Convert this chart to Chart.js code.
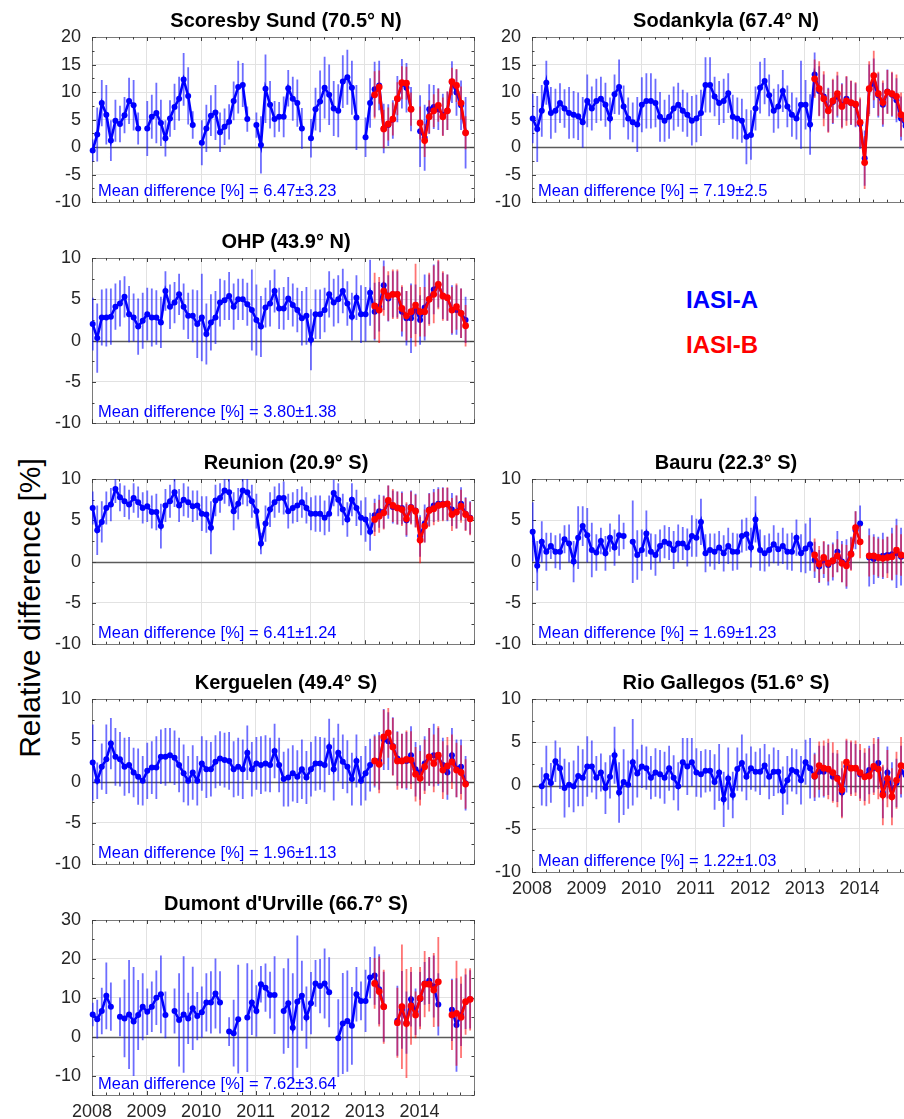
<!DOCTYPE html>
<html>
<head>
<meta charset="utf-8">
<script src="https://cdn.jsdelivr.net/npm/chart.js@4.4.0/dist/chart.umd.min.js"></script>
<style>
  html, body { margin: 0; padding: 0; background: #fff; overflow: hidden; width: 904px; height: 1119px; position: relative; font-family: "Liberation Sans", Arial, sans-serif; }
  canvas { position: absolute; }
  .txt { position: absolute; white-space: nowrap; transform: translate(-50%, -50%); }
</style>
</head>
<body>
<div class="txt" style="left:30px; top:608px; font-size:30px; color:#000; transform: translate(-50%,-50%) rotate(-90deg);">Relative difference [%]</div>
<div class="txt" style="left:722px; top:300px; font-size:24px; font-weight:bold; color:#0000ff;">IASI-A</div>
<div class="txt" style="left:722px; top:345px; font-size:24px; font-weight:bold; color:#ff0000;">IASI-B</div>

<script>
// monthly points Jan 2008 .. Dec 2014 (84 months); IASI-B starts Mar 2013
const firstYear = 2008
const bStart = 62

// Scoresby Sund
const scoresbyA = [
  -0.6, 2.3, 8.0, 5.9, 1.2, 4.8, 4.2, 5.8, 8.4, 7.6, 3.4, null,
  3.4, 5.5, 6.2, 4.4, 1.6, 5.2, 7.3, 8.8, 12.3, 9.3, 4.0, null,
  0.8, 3.4, 5.7, 6.3, 2.7, 3.7, 4.6, 8.4, 10.9, 11.3, 5.1, null,
  4.0, 0.4, 10.6, 7.7, 5.1, 5.5, 5.5, 10.7, 8.8, 8.0, 3.4, null,
  1.6, 6.9, 8.3, 10.8, 9.5, 7.0, 6.6, 11.9, 12.7, 10.8, 5.4, null,
  1.8, 8.0, 10.5, 11.2, 3.4, 4.0, 5.0, 8.7, 11.5, 10.8, 6.9, null,
  2.9, 1.7, 6.9, 7.3, 6.9, 5.9, 6.6, 11.8, 9.9, 7.6, 2.6, null]
const scoresbyAErr = [
  2.0, 4.9, 4.2, 5.4, 3.7, 3.8, 3.3, 3.3, 4.2, 4.6, 2.9, null,
  5.0, 4.0, 5.5, 4.2, 3.3, 3.3, 4.2, 4.0, 4.8, 5.2, 2.5, null,
  4.1, 4.3, 3.7, 5.0, 3.6, 3.3, 3.2, 3.5, 4.8, 4.0, 2.3, null,
  2.3, 5.2, 6.2, 4.3, 3.3, 2.7, 3.7, 3.3, 4.0, 4.3, 3.7, null,
  3.5, 3.9, 5.6, 5.6, 5.5, 5.0, 4.8, 4.8, 5.0, 4.9, 5.9, null,
  3.6, 4.5, 5.0, 4.5, 4.5, 3.8, 3.5, 4.2, 4.5, 4.5, 4.0, null,
  6.5, 6.0, 4.5, 4.0, 3.8, 3.8, 3.5, 3.8, 4.2, 4.5, 6.5, null]
const scoresbyB = [9.5, 10.9, 3.3, 4.2, 5.1, 8.8, 11.7, 11.6, 6.9, null,
  4.4, 1.2, 5.5, 6.6, 7.6, 5.5, 6.6, 11.9, 11.2, 8.0, 2.6, null]
const scoresbyBErr = [4.3, 3.0, 3.5, 3.0, 3.0, 3.0, 3.0, 3.0, 3.0, null,
  3.0, 3.0, 3.0, 3.0, 3.0, 3.5, 3.5, 2.5, 3.0, 3.0, 3.0, null]

// Sodankyla
const sodankylaA = [
  5.2, 3.3, 6.6, 11.7, 6.2, 6.6, 8.0, 7.0, 6.2, 5.9, 5.6, 4.5,
  8.4, 7.0, 8.4, 8.8, 7.7, 5.2, 9.6, 10.9, 7.4, 5.2, 4.5, 4.1,
  7.7, 8.4, 8.4, 8.0, 5.5, 4.8, 5.5, 7.0, 7.7, 6.6, 5.9, 4.8,
  5.2, 6.2, 11.3, 11.3, 9.2, 8.0, 8.4, 9.8, 5.5, 5.2, 4.8, 1.9,
  2.2, 7.0, 10.8, 12.0, 9.4, 6.6, 7.4, 10.2, 7.4, 5.9, 5.2, 7.7,
  7.7, 4.1, 13.2, 10.2, 9.2, 6.8, 8.2, 9.2, 7.6, 8.8, 8.0, 7.6,
  4.2, -2.0, 10.5, 11.6, 9.4, 7.7, 10.1, 9.5, 8.5, 5.2, 3.9, null]
const sodankylaAErr = [
  4.5, 6.0, 4.7, 4.0, 4.7, 4.0, 3.6, 3.5, 4.7, 4.3, 4.3, 4.6,
  4.8, 4.0, 4.0, 4.0, 4.0, 3.8, 3.6, 5.0, 3.8, 3.8, 3.6, 5.0,
  5.0, 5.0, 5.0, 4.4, 4.5, 3.8, 4.0, 4.0, 4.0, 3.8, 4.0, 4.5,
  4.3, 4.2, 5.0, 5.0, 3.6, 4.0, 4.0, 3.6, 4.0, 3.8, 4.0, 5.0,
  4.5, 4.0, 4.7, 4.2, 3.8, 4.0, 4.0, 3.8, 3.8, 4.0, 3.8, 8.0,
  4.5, 5.5, 4.0, 4.5, 4.0, 4.0, 4.0, 3.8, 4.0, 4.0, 4.0, 4.0,
  4.5, 5.0, 4.5, 4.5, 4.0, 4.0, 4.0, 4.0, 4.0, 4.0, 4.0, null]
const sodankylaB = [12.4, 10.6, 8.8, 6.6, 8.4, 9.7, 7.4, 8.4, 8.1, 7.8,
  4.5, -2.8, 10.6, 13.0, 9.7, 8.1, 10.0, 9.7, 9.2, 5.9, 5.0, null]
const sodankylaBErr = [3.5, 5.0, 5.0, 4.0, 4.0, 4.0, 4.0, 4.5, 4.0, 4.0,
  4.5, 4.8, 5.0, 4.5, 4.0, 4.0, 4.0, 4.0, 4.0, 4.0, 4.0, null]

// OHP
const ohpA = [
  2.0, 0.3, 2.8, 2.8, 2.9, 4.1, 4.5, 5.3, 3.2, 2.8, 1.7, 2.4,
  3.2, 2.8, 2.8, 2.2, 6.0, 4.1, 4.6, 5.6, 4.1, 3.0, 3.0, 2.0,
  2.8, 0.8, 2.2, 2.8, 4.6, 4.9, 5.4, 4.1, 5.0, 5.0, 4.4, 3.7,
  2.5, 1.7, 4.0, 4.5, 6.0, 3.9, 3.9, 5.1, 4.3, 3.7, 2.7, 3.0,
  0.1, 3.2, 3.2, 3.7, 5.6, 4.6, 5.0, 6.0, 4.5, 2.9, 5.2, 3.2,
  3.2, 5.8, 3.5, 4.1, 6.7, 5.1, 5.6, 5.6, 3.5, 2.7, 2.7, 3.8,
  2.5, 4.0, 5.0, 6.2, 6.8, 5.4, 5.2, 3.7, 3.7, 3.3, 2.5, null]
const ohpAErr = [
  3.2, 4.2, 3.4, 3.5, 3.4, 2.8, 2.8, 2.5, 3.4, 2.9, 3.4, 3.4,
  3.2, 3.5, 3.3, 3.1, 2.4, 2.7, 2.5, 2.5, 2.8, 2.8, 3.2, 4.1,
  5.3, 3.7, 3.4, 3.2, 2.9, 2.4, 2.9, 2.8, 2.5, 2.5, 2.6, 4.9,
  4.3, 3.7, 2.4, 2.8, 2.6, 2.5, 2.6, 2.6, 2.6, 2.7, 3.3, 3.5,
  3.7, 3.0, 3.0, 2.7, 2.8, 2.9, 2.9, 2.7, 2.7, 2.9, 2.7, 3.5,
  3.3, 4.0, 3.5, 3.0, 3.0, 2.8, 2.8, 2.8, 3.0, 3.3, 4.2, 3.0,
  3.0, 4.0, 3.0, 3.0, 2.8, 2.8, 2.8, 3.0, 3.0, 3.0, 2.8, null]
const ohpB = [4.2, 3.7, 6.0, 5.4, 5.6, 5.6, 3.9, 3.0, 3.5, 4.3,
  3.5, 3.5, 5.0, 5.6, 6.8, 5.4, 5.2, 3.7, 4.1, 3.3, 1.8, null]
const ohpBErr = [4.0, 4.0, 3.0, 3.0, 3.0, 3.0, 2.8, 3.0, 3.2, 5.0,
  3.0, 3.0, 3.2, 3.5, 3.0, 3.0, 2.8, 2.8, 2.8, 3.0, 2.5, null]

// Reunion
const reunionA = [
  6.5, 3.8, 4.8, 6.5, 6.9, 8.8, 7.8, 7.3, 6.9, 7.7, 7.2, 6.5,
  6.7, 6.0, 6.0, 4.3, 6.8, 7.3, 8.4, 6.8, 7.5, 7.2, 6.7, 6.8,
  5.8, 5.7, 4.1, 7.4, 7.7, 8.6, 8.4, 6.1, 7.0, 8.6, 8.4, 7.3,
  6.1, 2.2, 4.6, 6.3, 7.2, 7.7, 7.7, 6.1, 6.5, 6.8, 7.2, 6.5,
  5.8, 5.8, 5.8, 5.3, 5.8, 8.3, 7.5, 6.3, 5.1, 7.5, 6.5, 5.3,
  5.1, 3.6, 5.6, 6.1, 6.0, 7.2, 6.6, 6.5, 6.5, 5.0, 6.6, 6.2,
  3.1, 4.6, 6.3, 6.8, 7.0, 7.0, 6.9, 6.3, 6.0, 7.0, 5.8, 5.3]
const reunionAErr = [
  2.0, 3.0, 2.5, 2.0, 2.0, 1.7, 1.7, 1.9, 1.8, 1.8, 1.9, 1.9,
  1.9, 2.0, 2.2, 2.7, 2.0, 2.0, 1.8, 2.0, 2.0, 1.9, 1.9, 1.8,
  2.1, 2.2, 3.2, 1.9, 1.8, 1.6, 1.7, 2.3, 1.9, 1.7, 1.7, 2.0,
  2.1, 1.3, 2.2, 2.1, 1.9, 1.8, 2.0, 2.1, 1.9, 2.0, 1.9, 1.9,
  2.0, 2.2, 2.2, 2.1, 2.2, 1.6, 2.0, 1.9, 2.1, 2.0, 2.2, 2.1,
  2.7, 2.3, 2.0, 2.0, 2.0, 2.0, 2.0, 2.0, 2.0, 2.0, 2.0, 2.0,
  2.5, 2.3, 2.0, 2.0, 2.0, 2.0, 2.0, 2.0, 2.0, 2.0, 2.0, 2.0]
const reunionB = [5.1, 5.5, 5.9, 7.4, 6.8, 6.5, 6.3, 5.2, 6.5, 6.1,
  2.6, 4.3, 6.2, 6.4, 6.8, 6.9, 7.0, 5.7, 6.0, 6.7, 5.7, 5.2]
const reunionBErr = [2.0, 2.0, 2.0, 1.8, 2.0, 2.0, 2.0, 2.0, 2.0, 2.0,
  2.8, 2.0, 2.0, 2.0, 2.0, 2.0, 2.0, 2.0, 2.0, 2.0, 2.0, 2.0]

// Bauru
const bauruA = [
  3.6, -0.5, 2.4, 1.2, 1.9, 1.2, 1.2, 2.7, 2.2, 0.0, 2.9, 4.3,
  3.2, 1.4, 1.1, 2.5, 1.0, 2.9, 1.7, 3.2, 3.1, null, 2.4, 0.8,
  1.4, 3.4, 1.2, 0.8, 1.9, 2.4, 2.2, 1.4, 2.2, 2.2, 1.7, 3.1,
  2.9, 4.8, 1.0, 1.4, 1.2, 1.7, 1.0, 1.9, 1.2, 1.2, 3.1, 3.3,
  1.7, 5.1, 1.4, 1.0, 1.4, 2.1, 1.5, 1.9, 1.2, 1.2, 2.9, 1.0,
  1.6, 2.1, 0.2, -0.6, 0.2, -0.4, 0.0, 1.2, 0.0, -0.3, 1.0, 3.8,
  4.6, null, 0.5, 0.3, 0.5, 0.7, 0.8, 0.9, 1.0, 0.6, 0.7, 0.6]
const bauruAErr = [
  3.6, 3.0, 2.5, 2.3, 1.6, 2.0, 2.2, 1.7, 2.3, 2.5, 3.8, 2.4,
  3.3, 3.3, 2.2, 1.6, 2.1, 1.7, 2.2, 2.5, 1.6, null, 5.0, 3.0,
  2.5, 2.8, 2.2, 2.5, 2.0, 2.0, 2.0, 2.3, 2.3, 2.0, 2.3, 2.5,
  2.3, 2.8, 2.3, 2.0, 2.2, 2.0, 2.2, 2.2, 2.3, 2.2, 2.0, 2.0,
  2.4, 2.8, 2.5, 2.2, 2.0, 2.3, 2.0, 2.2, 2.2, 2.3, 2.2, 2.3,
  3.0, 3.2, 2.2, 2.0, 2.2, 2.5, 2.3, 2.5, 2.5, 3.0, 2.0, 2.3,
  2.2, null, 3.5, 3.0, 2.5, 2.8, 2.2, 3.2, 4.2, 3.5, 2.8, 2.8]
const bauruB = [0.8, -0.3, 0.5, -0.2, 0.1, 0.7, -0.2, -0.5, 0.9, 4.1,
  2.4, null, 0.7, 0.7, 0.5, 0.4, 0.5, 0.6, 1.4, 0.8, 0.7, 0.7]
const bauruBErr = [2.0, 2.2, 2.0, 2.2, 2.0, 2.0, 2.3, 2.5, 2.0, 2.0,
  2.0, null, 2.5, 2.3, 2.3, 2.3, 2.5, 2.8, 3.0, 2.5, 2.3, 2.3]

// Kerguelen
const kerguelenA = [
  2.3, 0.1, 1.8, 2.7, 4.6, 3.0, 2.7, 1.8, 2.0, 1.1, 0.6, 0.1,
  1.3, 1.7, 1.7, 3.0, 3.0, 3.2, 2.9, 2.0, 1.0, 0.1, 1.1, 0.1,
  2.2, 1.5, 1.5, 2.4, 2.8, 2.6, 2.5, 1.5, 1.8, 1.5, 3.5, 1.5,
  2.2, 2.0, 2.2, 2.0, 3.7, 2.0, 0.3, 0.5, 1.0, 0.6, 1.5, 0.5,
  1.5, 2.2, 2.2, 2.0, 4.2, 1.5, 3.5, 2.4, 1.8, 0.3, 2.5, 0.1,
  1.0, 2.0, 2.5, 2.5, 5.1, 4.9, 4.3, 2.8, 2.5, 2.5, 3.2, 1.5,
  1.1, 2.2, 3.0, 3.2, 3.0, 2.0, 1.1, 3.2, 1.6, 1.8, -0.2, null]
const kerguelenAErr = [
  4.6, 2.2, 2.8, 4.2, 3.1, 3.5, 3.3, 3.5, 3.4, 3.0, 3.4, 3.0,
  3.4, 3.2, 3.8, 3.3, 3.5, 3.3, 3.3, 3.3, 3.5, 3.0, 3.3, 3.0,
  3.3, 3.5, 3.3, 3.2, 3.3, 3.3, 3.5, 3.4, 3.5, 3.6, 3.3, 3.3,
  3.2, 3.5, 3.4, 3.3, 3.3, 3.3, 3.3, 3.5, 3.4, 3.2, 3.6, 3.2,
  3.3, 3.3, 3.2, 3.3, 3.4, 3.8, 3.5, 3.3, 3.2, 3.2, 3.2, 3.0,
  3.3, 3.2, 3.2, 3.5, 3.7, 3.5, 3.5, 3.3, 3.3, 3.5, 3.5, 3.3,
  3.3, 3.3, 3.5, 3.8, 3.5, 3.3, 3.3, 3.3, 3.5, 3.3, 3.3, null]
const kerguelenB = [2.5, 2.1, 5.4, 5.9, 4.2, 2.5, 2.5, 2.7, 2.6, 0.9,
  0.4, 1.8, 3.0, 2.2, 3.2, 1.4, 1.9, 2.4, 1.4, 1.1, -0.3, null]
const kerguelenBErr = [3.0, 3.5, 3.3, 3.0, 3.5, 3.5, 3.3, 3.5, 3.5, 3.3,
  3.3, 3.3, 3.5, 3.5, 3.5, 3.5, 3.5, 3.3, 3.3, 3.3, 3.0, null]

// Rio Gallegos
const rioA = [
  null, null, -0.1, 1.1, 0.3, 2.8, 2.0, -0.3, 0.1, -0.1, 1.1, 0.9,
  2.2, 2.2, 0.9, 1.5, -0.3, 1.0, 3.5, -0.8, 0.4, 0.1, 2.7, 1.4,
  2.2, 2.0, 0.9, 1.5, 1.3, 0.9, 2.0, 0.9, -0.1, 2.7, 2.2, 2.7,
  1.5, 1.3, 1.7, 1.7, 0.4, 1.5, -1.6, 0.8, -1.1, 1.9, 2.6, 1.0,
  2.0, 1.6, 1.6, 2.3, 1.0, 1.6, 1.6, -0.6, 0.6, 1.8, 1.6, 0.6,
  2.7, 2.0, 1.0, 1.6, 1.6, 1.9, 1.0, 0.9, -0.8, 2.2, 2.0, 2.0,
  1.3, 1.0, 1.8, 2.0, 2.6, -0.8, 1.5, -0.5, 0.3, 1.6, 1.2, 1.2]
const rioAErr = [
  null, null, 2.2, 3.5, 2.3, 2.4, 2.4, 3.4, 2.6, 3.0, 3.5, 3.3,
  3.5, 3.0, 2.5, 2.2, 3.0, 2.5, 3.3, 3.5, 3.8, 2.8, 5.0, 2.8,
  2.5, 2.5, 2.5, 2.8, 2.8, 3.0, 2.6, 2.6, 2.8, 2.8, 3.3, 2.8,
  2.8, 2.7, 2.5, 2.4, 3.2, 3.3, 3.2, 3.6, 2.7, 2.5, 3.3, 2.7,
  2.5, 2.3, 2.7, 2.5, 2.6, 2.8, 2.5, 2.8, 2.8, 2.5, 2.6, 2.8,
  2.6, 3.5, 2.8, 3.0, 3.0, 3.0, 2.8, 2.8, 2.8, 3.0, 3.0, 2.8,
  2.8, 2.8, 2.8, 2.8, 3.0, 3.0, 3.0, 3.2, 2.8, 3.0, 3.0, 3.0]
const rioB = [1.1, 2.3, 2.0, 1.9, 1.5, 0.8, -0.5, 2.7, 2.0, 2.0,
  1.5, 1.0, 1.1, 2.2, 1.9, -1.1, 0.8, -1.3, 0.6, 2.3, 2.2, 2.0]
const rioBErr = [2.5, 2.8, 3.2, 3.5, 3.5, 3.3, 3.3, 2.7, 3.2, 3.2,
  3.3, 3.3, 3.2, 3.3, 3.5, 3.5, 3.3, 3.3, 3.3, 3.3, 3.2, 3.0]

// Dumont d'Urville
const dumontA = [
  5.7, 4.5, 6.6, 10.5, 7.7, null, 5.1, 4.7, 5.7, 3.9, 5.6, 7.7,
  6.4, 7.7, 10.0, 10.9, 5.6, null, 6.6, 4.3, 5.7, 4.7, 7.3, 5.3,
  6.3, 8.8, 8.8, 11.1, 8.8, null, 1.3, 0.9, 4.5, null, 4.9, 8.8,
  6.6, 13.5, 12.6, 10.7, 10.7, null, 6.6, 8.6, 2.3, 9.0, 10.5, 4.9,
  8.6, 13.7, 13.0, 13.7, 11.4, null, -0.4, 3.4, 4.0, 2.8, 10.9, 9.2,
  9.2, 15.2, 15.7, 12.2, 7.7, null, null, 4.1, 6.9, 3.6, 9.6, 6.4,
  9.6, 13.7, 14.4, 12.9, 8.3, null, null, 6.9, 3.0, 5.6, 9.0, 9.6]
const dumontAErr = [
  3.0, 5.0, 6.0, 8.6, 6.2, null, 5.0, 10.0, 14.0, 14.0, 9.0, 8.6,
  6.0, 6.5, 7.0, 10.0, 6.0, null, 5.8, 12.0, 15.0, 6.6, 10.7, 6.2,
  6.6, 7.5, 8.0, 9.0, 8.0, null, 3.7, 8.6, 14.0, null, 14.0, 8.4,
  6.6, 4.7, 6.2, 6.0, 10.0, null, 11.0, 11.5, 14.0, 17.0, 9.0, 8.0,
  8.0, 6.0, 7.0, 9.0, 9.0, null, 10.0, 13.0, 13.0, 10.0, 7.0, 5.0,
  8.0, 5.3, 7.5, 9.0, 9.0, null, null, 9.0, 10.0, 8.0, 7.0, 6.0,
  7.0, 5.5, 6.0, 8.0, 8.0, null, null, 8.0, 12.0, 8.0, 7.0, 7.5]
const dumontB = [13.7, 11.6, 7.7, null, null, 3.6, 7.7, 3.4, 7.9, 5.6,
  9.9, 13.5, 13.5, 12.0, 14.1, null, null, 5.6, 6.0, 5.0, 9.0, 9.6]
const dumontBErr = [6.5, 9.0, 9.5, null, null, 9.0, 16.0, 14.0, 10.0, 6.0,
  8.0, 8.5, 7.0, 9.5, 11.5, null, null, 9.0, 13.5, 10.5, 8.5, 8.0]

const yearTicks = [2008, 2009, 2010, 2011, 2012, 2013, 2014]

const FONT = '"Liberation Sans", Arial, sans-serif'
const PLOT_W = 382

const panels = [
  { title: 'Scoresby Sund (70.5° N)', mean: '6.47±3.23', left: 92, top: 36.7, h: 173.3, yMin: -10, yMax: 20, yStep: 5, a: scoresbyA, aErr: scoresbyAErr, b: scoresbyB, bErr: scoresbyBErr },
  { title: 'Sodankyla (67.4° N)', mean: '7.19±2.5', left: 532, top: 36.7, h: 173.3, yMin: -10, yMax: 20, yStep: 5, a: sodankylaA, aErr: sodankylaAErr, b: sodankylaB, bErr: sodankylaBErr },
  { title: 'OHP (43.9° N)', mean: '3.80±1.38', left: 92, top: 258.3, h: 173.4, yMin: -10, yMax: 10, yStep: 5, a: ohpA, aErr: ohpAErr, b: ohpB, bErr: ohpBErr },
  { title: 'Reunion (20.9° S)', mean: '6.41±1.24', left: 92, top: 479.3, h: 173.4, yMin: -10, yMax: 10, yStep: 5, a: reunionA, aErr: reunionAErr, b: reunionB, bErr: reunionBErr },
  { title: 'Bauru (22.3° S)', mean: '1.69±1.23', left: 532, top: 479.3, h: 173.4, yMin: -10, yMax: 10, yStep: 5, a: bauruA, aErr: bauruAErr, b: bauruB, bErr: bauruBErr },
  { title: 'Kerguelen (49.4° S)', mean: '1.96±1.13', left: 92, top: 699.3, h: 173.4, yMin: -10, yMax: 10, yStep: 5, a: kerguelenA, aErr: kerguelenAErr, b: kerguelenB, bErr: kerguelenBErr },
  { title: 'Rio Gallegos (51.6° S)', mean: '1.22±1.03', left: 532, top: 699.3, h: 172.6, yMin: -10, yMax: 10, yStep: 5, a: rioA, aErr: rioAErr, b: rioB, bErr: rioBErr, xLabels: true },
  { title: "Dumont d'Urville (66.7° S)", mean: '7.62±3.64', left: 92, top: 920, h: 175, yMin: -15, yMax: 30, yStep: 10, a: dumontA, aErr: dumontAErr, b: dumontB, bErr: dumontBErr, xLabels: true }
]

const monthX = i => firstYear + (i + 0.15) / 12

function makePanel(p) {
  const padL = 70, padT = 36, padR = 10
  const padB = p.xLabels ? 34 : 14
  const cw = padL + PLOT_W + padR
  const ch = Math.round(padT + p.h + padB)
  const cv = document.createElement('canvas')
  cv.width = cw
  cv.height = ch
  cv.style.left = (p.left - padL) + 'px'
  cv.style.top = (p.top - padT) + 'px'
  cv.style.width = cw + 'px'
  cv.style.height = ch + 'px'
  document.body.appendChild(cv)

  const blue = p.a.map((v, i) => ({ x: monthX(i), y: v }))
  const red = p.b.map((v, i) => ({ x: monthX(bStart + i), y: v }))
  const minor = p.yStep / 2

  const deco = {
    id: 'deco',
    beforeDatasetsDraw(chart) {
      const { ctx, chartArea: a, scales: { x, y } } = chart
      ctx.save()
      // zero line
      const y0 = Math.round(y.getPixelForValue(0)) + 0.5
      ctx.strokeStyle = '#5a5a5a'
      ctx.lineWidth = 1.3
      ctx.beginPath(); ctx.moveTo(a.left, y0); ctx.lineTo(a.right, y0); ctx.stroke()
      // frame
      ctx.strokeStyle = '#7a7a7a'
      ctx.lineWidth = 1
      ctx.strokeRect(Math.round(a.left) + 0.5, Math.round(a.top) + 0.5, Math.round(a.right - a.left), Math.round(a.bottom - a.top))
      // inward ticks
      ctx.strokeStyle = '#404040'
      ctx.beginPath()
      for (let k = 0; p.yMin + k * minor <= p.yMax; k++) {
        const v = p.yMin + k * minor
        const len = (v % p.yStep === 0) ? 4 : 2.5
        const py = Math.round(y.getPixelForValue(v)) + 0.5
        ctx.moveTo(a.left, py); ctx.lineTo(a.left + len, py)
        ctx.moveTo(a.right, py); ctx.lineTo(a.right - len, py)
      }
      for (let q = 0; q <= 28; q++) {
        const v = firstYear + q / 4
        const len = (q % 4 === 0) ? 4 : 2.5
        const px = Math.round(x.getPixelForValue(v)) + 0.5
        ctx.moveTo(px, a.bottom); ctx.lineTo(px, a.bottom - len)
        ctx.moveTo(px, a.top); ctx.lineTo(px, a.top + len)
      }
      ctx.stroke()
      ctx.restore()
    },
    beforeDatasetDraw(chart, args) {
      // error bars of this dataset, drawn just under its line
      const ds = chart.data.datasets[args.index]
      const { ctx, chartArea: a, scales: { x, y } } = chart
      ctx.save()
      ctx.beginPath()
      ctx.rect(a.left, a.top, a.right - a.left, a.bottom - a.top)
      ctx.clip()
      ctx.strokeStyle = ds.errColor
      ctx.lineWidth = 1.8
      ctx.beginPath()
      ds.data.forEach((pt, i) => {
        const e = ds.errs[i]
        if (pt.y == null || e == null) return
        const px = x.getPixelForValue(pt.x)
        ctx.moveTo(px, y.getPixelForValue(pt.y - e))
        ctx.lineTo(px, y.getPixelForValue(pt.y + e))
      })
      ctx.stroke()
      ctx.restore()
    },
    afterDatasetsDraw(chart) {
      const { ctx, chartArea: a } = chart
      ctx.save()
      ctx.fillStyle = '#000'
      ctx.font = 'bold 20px ' + FONT
      ctx.textAlign = 'center'
      ctx.textBaseline = 'alphabetic'
      ctx.fillText(p.title, (a.left + a.right) / 2 + 3, a.top - 10)
      ctx.fillStyle = '#0000ff'
      ctx.font = '16.5px ' + FONT
      ctx.textAlign = 'left'
      ctx.fillText('Mean difference [%] = ' + p.mean, a.left + 6, a.bottom - 6)
      ctx.restore()
    }
  }

  new Chart(cv, {
    type: 'line',
    data: {
      datasets: [
        {
          label: 'IASI-B', data: red, errs: p.bErr, errColor: 'rgba(255,0,0,0.55)',
          borderColor: '#ff0000', backgroundColor: '#ff0000', borderWidth: 2.6,
          pointRadius: 3.4, pointBorderWidth: 0, pointBackgroundColor: '#ff0000',
          spanGaps: false, tension: 0, clip: { left: 6, right: 6, top: 2, bottom: 2 }
        },
        {
          label: 'IASI-A', data: blue, errs: p.aErr, errColor: 'rgba(20,20,255,0.62)',
          borderColor: '#0000ff', backgroundColor: '#0000ff', borderWidth: 2.6,
          pointRadius: 3.0, pointBorderWidth: 0, pointBackgroundColor: '#0000ff',
          spanGaps: false, tension: 0, clip: { left: 6, right: 6, top: 2, bottom: 2 }
        }
      ]
    },
    options: {
      responsive: false,
      animation: false,
      devicePixelRatio: 1,
      events: [],
      layout: { padding: { left: 0, top: padT, right: padR, bottom: p.xLabels ? 0 : padB } },
      plugins: { legend: { display: false }, tooltip: { enabled: false }, title: { display: false } },
      scales: {
        x: {
          type: 'linear', min: 2008, max: 2015,
          afterFit(s) { s.height = p.xLabels ? padB : 0 },
          afterBuildTicks(s) { s.ticks = yearTicks.map(v => ({ value: v })) },
          border: { display: false },
          grid: { color: '#e2e2e2', lineWidth: 1, drawTicks: false },
          ticks: {
            display: !!p.xLabels, padding: 6, color: '#262626',
            font: { size: 18, family: FONT },
            callback: v => String(v)
          }
        },
        y: {
          min: p.yMin, max: p.yMax,
          afterFit(s) { s.width = padL },
          afterBuildTicks(s) { s.ticks = s.ticks.filter(t => t.value % p.yStep === 0) },
          border: { display: false },
          grid: { color: ctx => ctx.tick && ctx.tick.value === 0 ? 'rgba(0,0,0,0)' : '#e2e2e2', lineWidth: 1, drawTicks: false },
          ticks: {
            stepSize: p.yStep, padding: 11, color: '#262626',
            font: { size: 18, family: FONT },
            callback: v => String(v)
          }
        }
      }
    },
    plugins: [deco]
  })
}

panels.forEach(makePanel)
</script>
</body>
</html>
